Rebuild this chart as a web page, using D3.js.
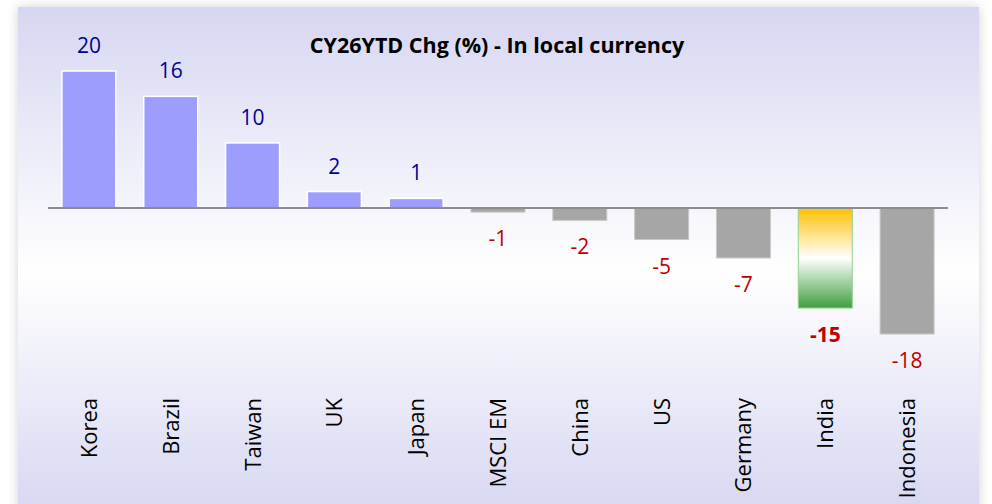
<!DOCTYPE html>
<html>
<head>
<meta charset="utf-8">
<title>CY26YTD Chg (%)</title>
<script src="https://cdnjs.cloudflare.com/ajax/libs/d3/7.8.5/d3.min.js"></script>
<style>
  body { margin: 0; background: #ffffff; }
  svg { display: block; }
  text { font-family: "Open Sans", "Noto Sans", sans-serif; }
</style>
</head>
<body>
<script>

// data
var countries = ["Korea", "Brazil", "Taiwan", "UK", "Japan", "MSCI EM", "China", "US", "Germany", "India", "Indonesia"];
var changes   = [20.0, 16.3, 9.5, 2.4, 1.4, -0.6, -1.8, -4.6, -7.3, -14.6, -18.4];
var highlight = "India";

var width = 992, height = 504;

var svg = d3.select("body").append("svg")
  .attr("width", width)
  .attr("height", height);

var defs = svg.append("defs");

// soft shadow around the panel
var shadow = defs.append("filter").attr("id", "shadow")
  .attr("x", "-5%").attr("y", "-5%").attr("width", "110%").attr("height", "110%");
shadow.append("feGaussianBlur").attr("in", "SourceAlpha").attr("stdDeviation", 6);
shadow.append("feComponentTransfer").append("feFuncA").attr("type", "linear").attr("slope", 0.18);
var merge = shadow.append("feMerge");
merge.append("feMergeNode");
merge.append("feMergeNode").attr("in", "SourceGraphic");

var bg = defs.append("linearGradient").attr("id", "bg")
  .attr("x1", 0).attr("y1", 0).attr("x2", 0).attr("y2", 1);
bg.append("stop").attr("offset", "0%").attr("stop-color", "#d6d6f2");
bg.append("stop").attr("offset", "52%").attr("stop-color", "#ffffff");
bg.append("stop").attr("offset", "100%").attr("stop-color", "#d6d6f2");

var flag = defs.append("linearGradient").attr("id", "flag")
  .attr("x1", 0).attr("y1", 0).attr("x2", 0).attr("y2", 1);
flag.append("stop").attr("offset", "0%").attr("stop-color", "#ffc000");
flag.append("stop").attr("offset", "50%").attr("stop-color", "#ffffff");
flag.append("stop").attr("offset", "100%").attr("stop-color", "#3f9f3f");

svg.append("rect")
  .attr("x", 18).attr("y", 7)
  .attr("width", 961).attr("height", 510)
  .attr("fill", "url(#bg)")
  .attr("filter", "url(#shadow)");

var x = d3.scaleBand()
  .domain(countries)
  .range([48, 948])
  .paddingInner(0.34)
  .paddingOuter(0.17);

var y = d3.scaleLinear()
  .domain([-25, 25])
  .range([208 + 171.25, 208 - 171.25]);

var rows = countries.map(function(c, i) { return { name: c, value: changes[i] }; });

// bars
svg.append("g")
  .selectAll("rect")
  .data(rows)
  .enter().append("rect")
  .attr("x", function(d) { return x(d.name); })
  .attr("width", x.bandwidth())
  .attr("y", function(d) { return y(Math.max(0, d.value)); })
  .attr("height", function(d) { return Math.abs(y(d.value) - y(0)); })
  .attr("fill", function(d) {
    if (d.name == highlight) return "url(#flag)";
    return d.value >= 0 ? "#9d9dfd" : "#a6a6a6";
  })
  .attr("stroke", function(d) {
    if (d.name == highlight) return "#8fcf8f";
    return d.value >= 0 ? "#ffffff" : "#c8c8c8";
  })
  .attr("stroke-width", function(d) { return d.value >= 0 ? 1.5 : 1; });

// zero line
svg.append("line")
  .attr("x1", 48).attr("x2", 948)
  .attr("y1", y(0)).attr("y2", y(0))
  .attr("stroke", "#8c8c8c")
  .attr("stroke-width", 2);

// value labels
svg.append("g")
  .selectAll("text")
  .data(rows)
  .enter().append("text")
  .attr("x", function(d) { return x(d.name) + x.bandwidth() / 2; })
  .attr("y", function(d) { return d.value >= 0 ? y(d.value) - 18 : y(d.value) + 34; })
  .attr("text-anchor", "middle")
  .style("font-size", "21px")
  .style("font-weight", function(d) { return d.name == highlight ? "bold" : "normal"; })
  .attr("fill", function(d) { return d.value >= 0 ? "#000099" : "#c00000"; })
  .text(function(d) { return Math.round(d.value); });

// category labels
svg.append("g")
  .selectAll("text")
  .data(rows)
  .enter().append("text")
  .attr("transform", function(d) {
    return "translate(" + (x(d.name) + x.bandwidth() / 2 + 8) + ",398) rotate(-90)";
  })
  .attr("text-anchor", "end")
  .style("font-size", "22px")
  .attr("fill", "#000000")
  .text(function(d) { return d.name; });

// title
svg.append("text")
  .attr("x", 497).attr("y", 53)
  .attr("text-anchor", "middle")
  .style("font-size", "21.5px")
  .style("font-weight", "bold")
  .attr("fill", "#000000")
  .text("CY26YTD Chg (%) - In local currency");

</script>
</body>
</html>
